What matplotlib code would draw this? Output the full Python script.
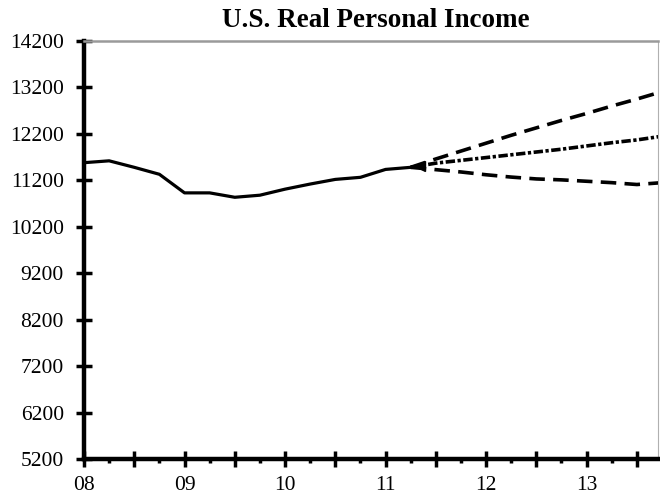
import matplotlib
matplotlib.use("Agg")
import matplotlib.pyplot as plt
from matplotlib.ticker import FixedLocator

# ---- data ----
hist_x = [2008.0, 2008.25, 2008.5, 2008.75, 2009.0, 2009.25, 2009.5, 2009.75,
          2010.0, 2010.25, 2010.5, 2010.75, 2011.0, 2011.25]
hist_y = [11580, 11620, 11480, 11330, 10930, 10930, 10835, 10880,
          11010, 11120, 11220, 11265, 11435, 11480]

fc_x = [2011.25, 2011.5, 2011.75, 2012.0, 2012.25, 2012.5, 2012.75,
        2013.0, 2013.25, 2013.5, 2013.75]
fc_high = [11480, 11660, 11830, 12000, 12170, 12330, 12490, 12640, 12800, 12950, 13110]
fc_mid = [11480, 11570, 11630, 11690, 11750, 11810, 11870, 11940, 12010, 12070, 12150]
fc_low = [11480, 11430, 11380, 11320, 11270, 11230, 11210, 11180, 11150, 11110, 11150]

y_ticks = [5200, 6200, 7200, 8200, 9200, 10200, 11200, 12200, 13200, 14200]
x_ticks = [2008, 2009, 2010, 2011, 2012, 2013]
x_labels = ["08", "09", "10", "11", "12", "13"]
title = "U.S. Real Personal Income"

plt.rcParams['font.family'] = ['Liberation Serif', 'DejaVu Serif']

fig = plt.figure(figsize=(6.6, 4.98), dpi=100)
ax = fig.add_axes([84/660, 1-459/498, (658-84)/660, (459-41)/498])

ax.plot(hist_x, hist_y, color='black', lw=2.3, solid_joinstyle='round',
        solid_capstyle='round', zorder=3)
ax.plot(fc_x, fc_high, color='black', lw=2.6, linestyle=(0, (4.3, 2.3)), zorder=3)
ax.plot(fc_x, fc_mid, color='black', lw=2.6, linestyle=(0, (2.6, 0.7, 0.9, 0.7)), zorder=3)
ax.plot(fc_x, fc_low, color='black', lw=2.6, linestyle=(0, (4.3, 2.3)), zorder=3)
ax.plot([fc_x[0] + 0.09], [fc_high[0] + 20], marker='<', color='black',
        markersize=7, zorder=4)

ax.set_xlim(2008, 2013.71)
ax.set_ylim(5200, 14200)
ax.set_yticks(y_ticks)
ax.set_yticklabels([str(v) for v in y_ticks])
ax.xaxis.set_major_locator(FixedLocator([2008 + 0.5*i for i in range(12)]))
ax.set_xticklabels([])
ax.xaxis.set_minor_locator(FixedLocator([2008.25 + 0.5*i for i in range(11)]))

for x, lab in zip(x_ticks, x_labels):
    ax.text(x, -0.040, lab, transform=ax.get_xaxis_transform(), ha='center',
            va='top', fontsize=15.5)

ax.tick_params(axis='y', direction='inout', length=11, width=2.5, labelsize=15.5,
               pad=9)
ax.tick_params(axis='x', which='major', direction='inout', length=11, width=2.5)
ax.tick_params(axis='x', which='minor', direction='out', length=3, width=2.5)

for s in ['left', 'bottom']:
    ax.spines[s].set_linewidth(3.2)
    ax.spines[s].set_color('black')
ax.spines['top'].set_color('#9a9a9a')
ax.spines['top'].set_linewidth(1.8)
ax.spines['right'].set_color('#b0b0b0')
ax.spines['right'].set_linewidth(0.8)

fig.text(376/660, 1-27/498, title, ha='center', va='baseline', fontsize=19.5,
         fontweight='bold')

fig.savefig("out.png", dpi=100)
